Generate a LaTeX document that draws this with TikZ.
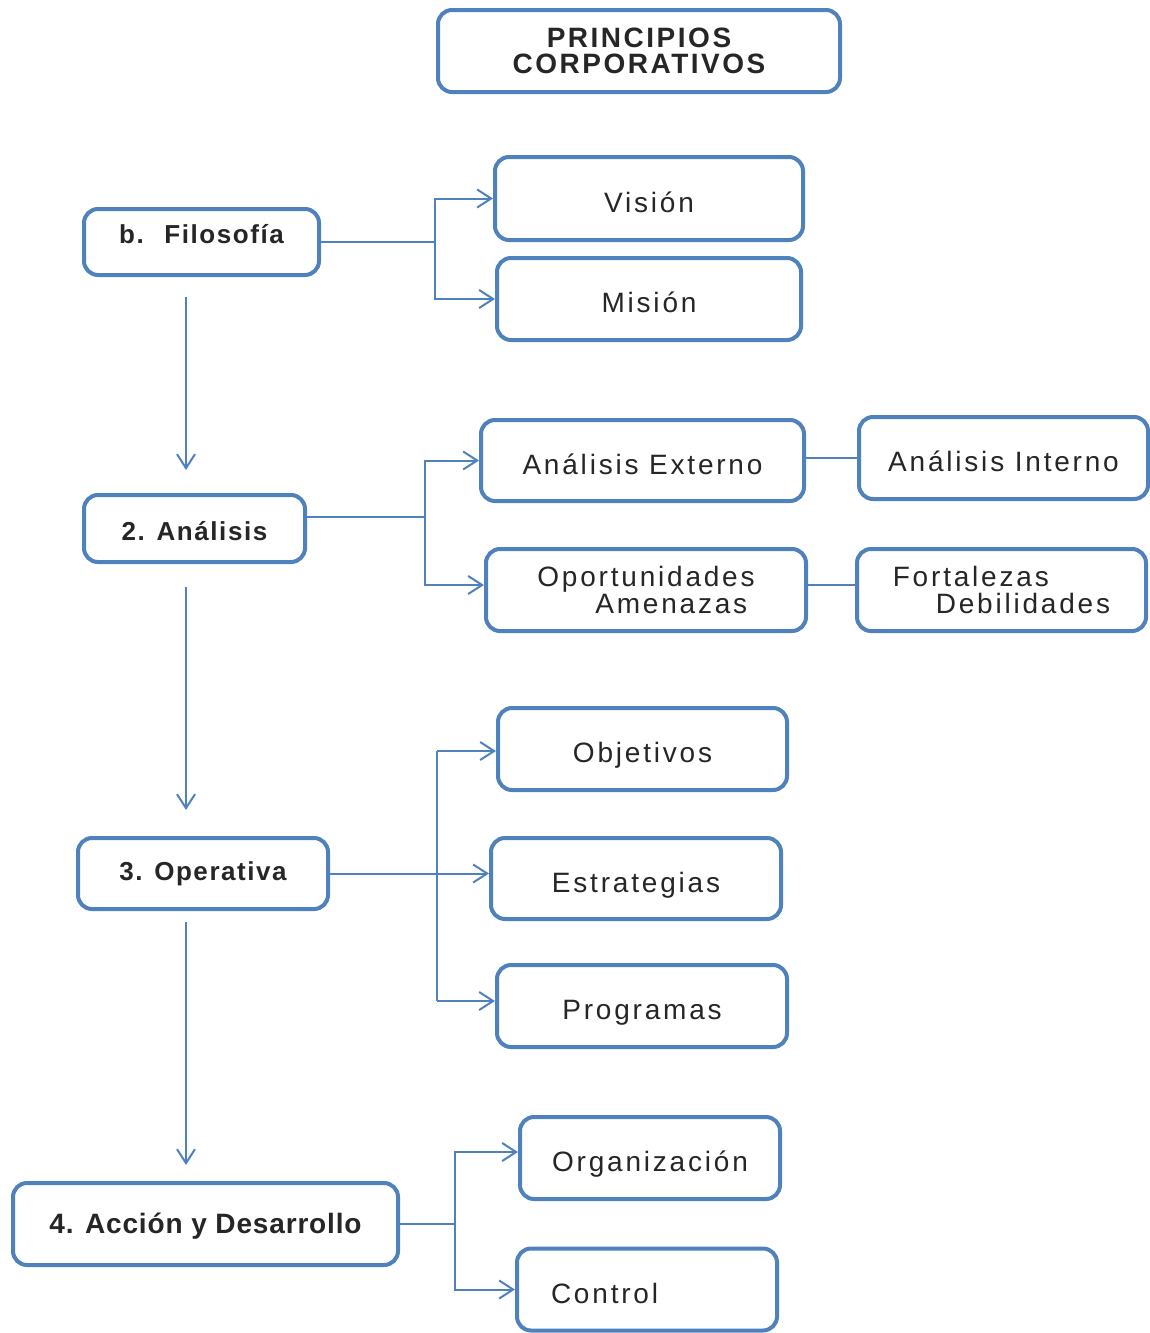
\documentclass[tikz,border=0pt]{standalone}
\usepackage{fontspec}
\setmainfont{Liberation Sans}[LetterSpace=10]
\usetikzlibrary{arrows.meta}
\definecolor{bl}{RGB}{79,129,189}
\begin{document}
\begin{tikzpicture}[x=0.5pt,y=-0.5pt,
  box/.style={draw=bl,line width=2pt,rounded corners=7pt,fill=white,inner sep=2pt,align=center,
    font=\fontsize{14pt}{13.5pt}\selectfont,text=black!85},
  sbox/.style={box,text height=13.5pt,text depth=0pt},
  bbox/.style={box,font=\fontsize{13pt}{13pt}\selectfont\bfseries\addfontfeature{LetterSpace=6}},
  con/.style={draw=bl,line width=1pt},
  arr/.style={con,-{Straight Barb[length=7pt,width=9pt,line width=1pt]}}]
\useasboundingbox (0,0) rectangle (1150,1333);
\node[bbox,minimum width=201pt,minimum height=41pt,font=\fontsize{14pt}{13pt}\selectfont\bfseries\addfontfeature{LetterSpace=9}] (prin) at (639,51) {PRINCIPIOS\\CORPORATIVOS};
\node[bbox,minimum width=117.5pt,minimum height=33pt,text height=1pt,text depth=0pt] (filo) at (201.5,242) {b.~ Filosofía};
\node[sbox,minimum width=154pt,minimum height=41.5pt] (vision) at (649,198.5) {Visión};
\node[sbox,minimum width=152pt,minimum height=41pt] (mision) at (649,299) {Misión};
\node[bbox,minimum width=110.5pt,minimum height=33.5pt,text height=11.5pt,text depth=0pt] (anal) at (194.5,528.5) {2. Análisis};
\node[sbox,minimum width=161.5pt,minimum height=40.5pt] (aext) at (642.5,460.5) {Análisis Externo};
\node[sbox,minimum width=144.5pt,minimum height=41pt] (aint) at (1003.5,458) {Análisis Interno};
\node[box,minimum width=160pt,minimum height=41pt,align=left] (opor) at (646,590) {Oportunidades\\\hspace*{29pt}Amenazas};
\node[box,minimum width=144.5pt,minimum height=41pt,align=left] (fort) at (1001.5,590) {Fortalezas\\\hspace*{21.5pt}Debilidades};
\node[bbox,minimum width=125pt,minimum height=35.5pt,text height=6.5pt,text depth=0pt] (oper) at (203,873.5) {3. Operativa};
\node[sbox,minimum width=144.5pt,minimum height=41pt] (obj) at (642.5,749) {Objetivos};
\node[sbox,minimum width=145pt,minimum height=40.5pt] (estr) at (636,878.5) {Estrategias};
\node[sbox,minimum width=145pt,minimum height=41pt] (prog) at (642,1006) {Programas};
\node[bbox,minimum width=192.5pt,minimum height=41pt,text height=9pt,text depth=0pt,font=\fontsize{14pt}{14pt}\selectfont\bfseries\addfontfeature{LetterSpace=3}] (accion) at (205.5,1224) {4. Acción y Desarrollo};
\node[sbox,minimum width=130pt,minimum height=41pt] (org) at (650,1158) {Organización};
\node[sbox,minimum height=41pt,text width=96pt,inner xsep=17pt,align=left] (ctrl) at (647,1289.5) {Control};
% anchor points
\coordinate (ao) at ([yshift=5.75pt]anal.east);
\coordinate (opw) at ([yshift=2.5pt]opor.west);
\coordinate (ope) at ([yshift=2.5pt]opor.east);
\coordinate (fow) at ([yshift=2.5pt]fort.west);
\coordinate (objw) at ([yshift=-1pt]obj.west);
\coordinate (progw) at ([yshift=2.5pt]prog.west);
\coordinate (orgw) at ([yshift=3pt]org.west);
% bus coordinates
\coordinate (b1) at (435,0);
\coordinate (b2) at (425,0);
\coordinate (b3) at (437,0);
\coordinate (b4) at (455,0);
% Filosofia
\draw[con] (filo.east) -- (b1 |- filo.east);
\draw[arr] (b1 |- filo.east) |- (vision.west);
\draw[arr] (b1 |- filo.east) |- (mision.west);
% Analisis
\draw[con] (ao) -- (b2 |- ao);
\draw[arr] (b2 |- ao) |- (aext.west);
\draw[arr] (b2 |- ao) |- (opw);
\draw[con] (aext.east |- aint.west) -- (aint.west);
\draw[con] (ope) -- (fow);
% Operativa
\draw[arr] (oper.east) -- (oper.east -| estr.west);
\draw[con] (b3 |- objw) -- (b3 |- progw);
\draw[arr] (b3 |- objw) -- (objw);
\draw[arr] (b3 |- progw) -- (progw);
% Accion
\draw[con] (accion.east) -- (b4 |- accion.east);
\draw[arr] (b4 |- accion.east) |- (orgw);
\draw[arr] (b4 |- accion.east) |- (ctrl.west);
% vertical arrows
\coordinate (v1s) at (186,297); \coordinate (v1e) at (186,470);
\coordinate (v2s) at (186,587); \coordinate (v2e) at (186,810);
\coordinate (v3s) at (186,922); \coordinate (v3e) at (186,1165);
\draw[arr] (v1s) -- (v1e);
\draw[arr] (v2s) -- (v2e);
\draw[arr] (v3s) -- (v3e);
\end{tikzpicture}
\end{document}
